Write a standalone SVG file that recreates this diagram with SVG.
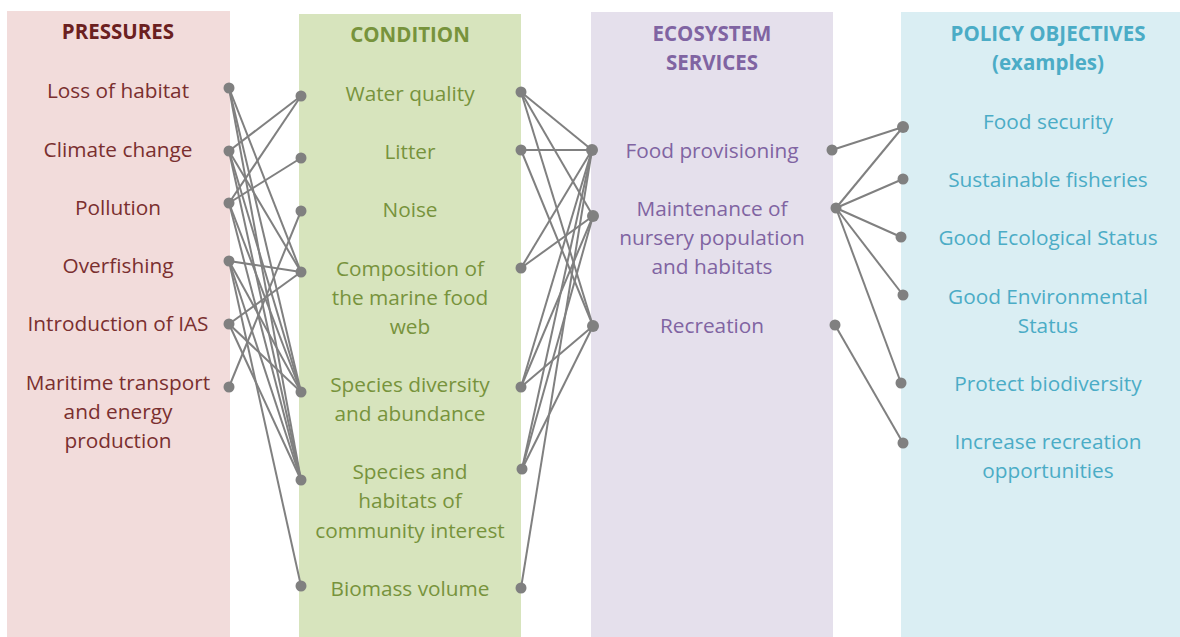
<svg xmlns="http://www.w3.org/2000/svg" width="1180" height="637" viewBox="0 0 1180 637">
<defs>
<style>
text{font-family:"Open Sans","Liberation Sans",sans-serif;font-size:20.8px;text-anchor:middle}
.h{font-weight:bold;font-size:20.5px}
.p{fill:#7a2f2f}.ph{fill:#6b2020}
.c{fill:#77933c}
.e{fill:#8064a2}
.o{fill:#4bacc6}
.ln line{stroke:#808080;stroke-width:2}
.d{fill:#808080}
</style>
</defs>
<rect width="1180" height="637" fill="#ffffff"/>
<rect x="7" y="11" width="223" height="626" fill="#f2dcdb"/>
<rect x="299" y="14" width="222" height="623" fill="#d7e4bd"/>
<rect x="591" y="12" width="242" height="625" fill="#e5e0ec"/>
<rect x="901" y="12" width="279" height="625" fill="#daeef3"/>

<g id="connectors" class="ln">
<line x1="229" y1="88" x2="301" y2="272"/>
<line x1="229" y1="88" x2="301" y2="392"/>
<line x1="229" y1="88" x2="301" y2="480"/>
<line x1="229" y1="151" x2="301" y2="96"/>
<line x1="229" y1="151" x2="301" y2="272"/>
<line x1="229" y1="151" x2="301" y2="392"/>
<line x1="229" y1="151" x2="301" y2="480"/>
<line x1="229" y1="203" x2="301" y2="96"/>
<line x1="229" y1="203" x2="301" y2="158"/>
<line x1="229" y1="203" x2="301" y2="392"/>
<line x1="229" y1="203" x2="301" y2="480"/>
<line x1="229" y1="261" x2="301" y2="272"/>
<line x1="229" y1="261" x2="301" y2="392"/>
<line x1="229" y1="261" x2="301" y2="480"/>
<line x1="229" y1="261" x2="301" y2="586"/>
<line x1="229" y1="324" x2="301" y2="272"/>
<line x1="229" y1="324" x2="301" y2="392"/>
<line x1="229" y1="324" x2="301" y2="480"/>
<line x1="229" y1="387" x2="301" y2="211"/>

<line x1="521" y1="92" x2="592" y2="150"/>
<line x1="521" y1="92" x2="593" y2="216"/>
<line x1="521" y1="92" x2="593" y2="326"/>
<line x1="521" y1="150" x2="592" y2="150"/>
<line x1="521" y1="150" x2="593" y2="326"/>
<line x1="521" y1="268" x2="592" y2="150"/>
<line x1="521" y1="268" x2="593" y2="216"/>
<line x1="521" y1="387" x2="592" y2="150"/>
<line x1="521" y1="387" x2="593" y2="216"/>
<line x1="521" y1="387" x2="593" y2="326"/>
<line x1="522" y1="469" x2="592" y2="150"/>
<line x1="522" y1="469" x2="593" y2="216"/>
<line x1="522" y1="469" x2="593" y2="326"/>
<line x1="521" y1="588" x2="592" y2="150"/>

<line x1="832" y1="150" x2="903" y2="127"/>
<line x1="836" y1="208" x2="903" y2="127"/>
<line x1="836" y1="208" x2="903" y2="179"/>
<line x1="836" y1="208" x2="901" y2="237"/>
<line x1="836" y1="208" x2="903" y2="295"/>
<line x1="836" y1="208" x2="901" y2="383"/>
<line x1="835" y1="325" x2="903" y2="443"/>
</g>

<g id="dots" class="d">
<circle cx="229" cy="88" r="5.5"/><circle cx="229" cy="151" r="5.5"/><circle cx="229" cy="203" r="5.5"/>
<circle cx="229" cy="261" r="5.5"/><circle cx="229" cy="324" r="5.5"/><circle cx="229" cy="387" r="5.5"/>
<circle cx="301" cy="96" r="5.5"/><circle cx="301" cy="158" r="5.5"/><circle cx="301" cy="211" r="5.5"/>
<circle cx="301" cy="272" r="5.5"/><circle cx="301" cy="392" r="5.5"/><circle cx="301" cy="480" r="5.5"/><circle cx="301" cy="586" r="5.5"/>
<circle cx="521" cy="92" r="5.5"/><circle cx="521" cy="150" r="5.5"/><circle cx="521" cy="268" r="5.5"/>
<circle cx="521" cy="387" r="5.5"/><circle cx="522" cy="469" r="5.5"/><circle cx="521" cy="588" r="5.5"/>
<circle cx="592" cy="150" r="6"/><circle cx="593" cy="216" r="6"/><circle cx="593" cy="326" r="6"/>
<circle cx="832" cy="150" r="5.5"/><circle cx="836" cy="208" r="5.5"/><circle cx="835" cy="325" r="5.5"/>
<circle cx="903" cy="127" r="6"/><circle cx="903" cy="179" r="5.5"/><circle cx="901" cy="237" r="5.5"/>
<circle cx="903" cy="295" r="5.5"/><circle cx="901" cy="383" r="5.5"/><circle cx="903" cy="443" r="5.5"/>
</g>

<g id="pressures">
<text class="h ph" x="118" y="39">PRESSURES</text>
<text class="p" x="118" y="98">Loss of habitat</text>
<text class="p" x="118" y="157">Climate change</text>
<text class="p" x="118" y="215">Pollution</text>
<text class="p" x="118" y="273">Overfishing</text>
<text class="p" x="118" y="331">Introduction of IAS</text>
<text class="p" x="118" y="390">Maritime transport</text>
<text class="p" x="118" y="419">and energy</text>
<text class="p" x="118" y="448">production</text>
</g>

<g id="condition">
<text class="h c" x="410" y="42">CONDITION</text>
<text class="c" x="410" y="101">Water quality</text>
<text class="c" x="410" y="159">Litter</text>
<text class="c" x="410" y="217">Noise</text>
<text class="c" x="410" y="276">Composition of</text>
<text class="c" x="410" y="305">the marine food</text>
<text class="c" x="410" y="334">web</text>
<text class="c" x="410" y="392">Species diversity</text>
<text class="c" x="410" y="421">and abundance</text>
<text class="c" x="410" y="479">Species and</text>
<text class="c" x="410" y="508">habitats of</text>
<text class="c" x="410" y="538">community interest</text>
<text class="c" x="410" y="596">Biomass volume</text>
</g>

<g id="ecosystem-services">
<text class="h e" x="712" y="41">ECOSYSTEM</text>
<text class="h e" x="712" y="70">SERVICES</text>
<text class="e" x="712" y="158">Food provisioning</text>
<text class="e" x="712" y="216">Maintenance of</text>
<text class="e" x="712" y="245">nursery population</text>
<text class="e" x="712" y="274">and habitats</text>
<text class="e" x="712" y="333">Recreation</text>
</g>

<g id="policy-objectives">
<text class="h o" x="1048" y="41">POLICY OBJECTIVES</text>
<text class="h o" x="1048" y="70">(examples)</text>
<text class="o" x="1048" y="129">Food security</text>
<text class="o" x="1048" y="187">Sustainable fisheries</text>
<text class="o" x="1048" y="245">Good Ecological Status</text>
<text class="o" x="1048" y="304">Good Environmental</text>
<text class="o" x="1048" y="333">Status</text>
<text class="o" x="1048" y="391">Protect biodiversity</text>
<text class="o" x="1048" y="449">Increase recreation</text>
<text class="o" x="1048" y="478">opportunities</text>
</g>
</svg>
